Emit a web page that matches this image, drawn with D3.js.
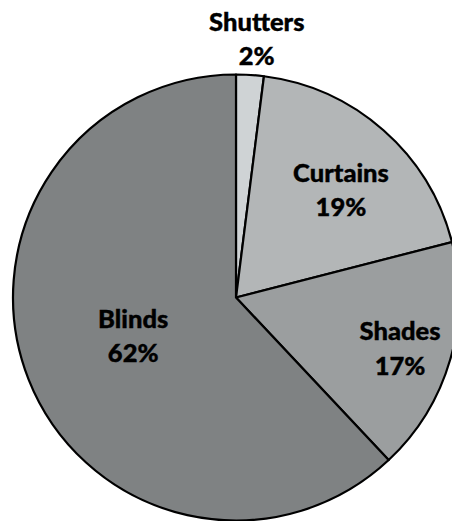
<!DOCTYPE html>
<html>
<head>
<meta charset="utf-8">
<script src="https://cdn.jsdelivr.net/npm/d3@7"></script>
<style>
  html, body { margin: 0; padding: 0; background: #fff; }
  svg text { font-family: Lato, "Open Sans", sans-serif; font-weight: 900; }
</style>
</head>
<body>
<svg id="chart" width="452" height="521"></svg>
<script>
const categories = ['Shutters', 'Curtains', 'Shades', 'Blinds'];
const shares = [2, 19, 17, 62];
const fills = ['#cfd3d5', '#b3b6b7', '#9b9e9f', '#7f8283'];

// label placement: distance from centre and small angle nudge (degrees)
const labelRadius = [259, 150, 172, 110];
const labelNudge = [1, 3, 1.3, 0.8];

const width = 452, height = 521;
const cx = 236, cy = 297.5, radius = 223;

const svg = d3.select('#chart');
const g = svg.append('g').attr('transform', `translate(${cx},${cy})`);

const pie = d3.pie().sort(null).value(d => d.value);
const arcs = pie(categories.map((c, i) => ({ name: c, value: shares[i], i })));

const arc = d3.arc().innerRadius(0).outerRadius(radius);

g.selectAll('path')
  .data(arcs)
  .enter()
  .append('path')
  .attr('d', arc)
  .attr('fill', d => fills[d.data.i])
  .attr('stroke', '#000')
  .attr('stroke-width', 2.2)
  .attr('stroke-linejoin', 'round');

const lineGap = 34.5;
const fontSize = 25.5;

const labels = g.selectAll('text')
  .data(arcs)
  .enter()
  .append('text')
  .attr('text-anchor', 'middle')
  .attr('font-size', fontSize)
  .attr('fill', '#000')
  .attr('stroke', '#000')
  .attr('stroke-width', 0.4)
  .attr('transform', d => {
    const a = (d.startAngle + d.endAngle) / 2 + labelNudge[d.data.i] * Math.PI / 180;
    const r = labelRadius[d.data.i];
    return `translate(${Math.sin(a) * r},${-Math.cos(a) * r})`;
  });

labels.append('tspan')
  .attr('x', 0)
  .attr('y', -lineGap / 2 + 8.5)
  .text(d => d.data.name);

labels.append('tspan')
  .attr('x', 0)
  .attr('y', lineGap / 2 + 8.5)
  .text(d => d.data.value + '%');
</script>
</body>
</html>
